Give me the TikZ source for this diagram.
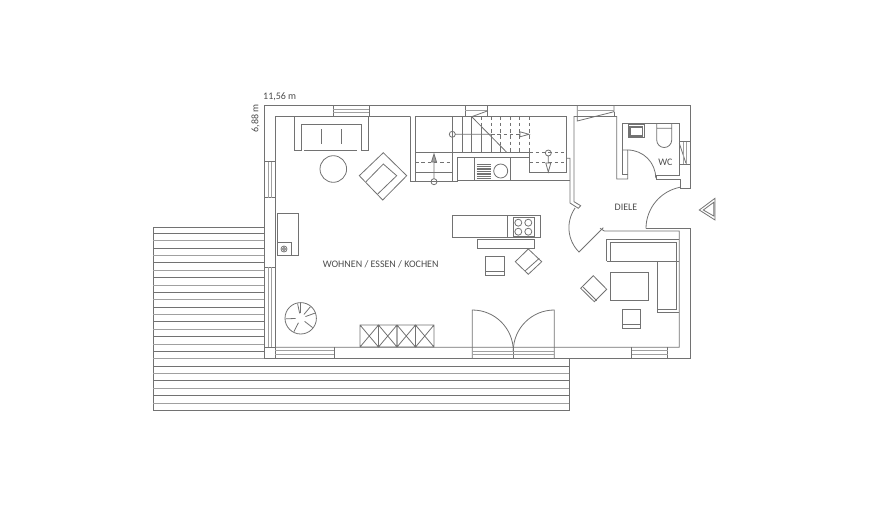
\documentclass[tikz,border=0pt]{standalone}
\usepackage{fontspec}
\usetikzlibrary{calc}
\setmainfont{Carlito}
\definecolor{planline}{HTML}{727272}
\definecolor{planlight}{HTML}{A0A0A0}
\tikzset{
plan/.style={draw=planline,line width=0.8pt},
pane/.style={draw=planlight,line width=0.8pt},
hidden/.style={plan,dash pattern=on 3.5pt off 2.8pt},
label/.style={text=black!70,font=\fontsize{10}{11}\selectfont,inner sep=0pt}}
\newcommand{\panes}[4]{% x1, x2, y1, y2
\draw[pane] (#1,#3) -- (#2,#3);
\draw[pane] (#1,#4) -- (#2,#4);}
\begin{document}
\begin{tikzpicture}[x=1pt,y=-1pt]
\useasboundingbox (0,0) rectangle (870,504);
% terrace
\draw[plan] (264,227.3) -- (153.3,227.3) -- (153.3,410.3) -- (569.3,410.3) -- (569.3,358.7);
\foreach \k in {0,2,...,16}
\draw[plan] (153.3,{233.3+7.375*\k}) -- (264,{233.3+7.375*\k});
\foreach \k in {1,3,...,15}
\draw[pane] (153.3,{233.3+7.375*\k}) -- (264,{233.3+7.375*\k});
\foreach \k in {17,19,21,23}
\draw[pane] (153.3,{233.3+7.375*\k}) -- (569.3,{233.3+7.375*\k});
\foreach \k in {18,20,22}
\draw[plan] (153.3,{233.3+7.375*\k}) -- (569.3,{233.3+7.375*\k});
% outer walls
\draw[plan] (690.7,188.3) -- (690.7,105) -- (264,105) -- (264,358.3) -- (690.7,358.3) -- (690.7,228.5) -- (646,228.5);
\draw[plan] (680,188.3) -- (690.7,188.3);
% inner walls
\draw[plan] (410.7,116.5) -- (275.5,116.5) -- (275.5,347.3) -- (679.3,347.3) -- (679.3,231) -- (604.3,231) -- (600,228.3);
\draw[plan] (264,347.3) -- (275.5,347.3);
\draw[plan] (410.7,116.5) -- (410.7,181.7) -- (415,181.7);
\draw[plan] (264,161.7) -- (275.5,161.7) (264,197.7) -- (275.5,197.7) (264,267.3) -- (275.5,267.3);
\draw[plan] (566.7,158.3) -- (570,158.3) -- (570,203) -- (578.3,208.3) -- (580.7,205.7) -- (574,201.7) -- (574,116.5) -- (616.7,116.5) -- (616.7,179) -- (627.7,179) -- (627.7,150) -- (622.7,150);
\draw[plan] (622.7,174.5) -- (627.7,174.5);
\draw[plan] (622.7,174.5) -- (622.7,123.3) -- (679.3,123.3) -- (679.3,175) -- (656,175) -- (656,179) -- (680,179) -- (680,188.3);
% windows
\draw[plan] (333,105) rectangle (369,116.5);
\panes{333}{369}{109}{112}
\draw[plan] (465.3,105) rectangle (487.3,116.5);
\draw[pane] (465.3,110) -- (487.3,110);
\draw[plan] (577.3,105) -- (577.3,121) -- (614,111.7) -- (614,105);
\draw[plan] (614,111.7) -- (614,116.5);
\draw[pane] (577.3,110) -- (614,110);
\draw[plan] (679.3,141.7) -- (690.7,141.7) (679.3,164.3) -- (690.7,164.3);
\draw[plan] (679.3,143.3) -- (686,163.3);
\draw[pane] (683.3,141.7) -- (683.3,164.3) (686.7,141.7) -- (686.7,164.3);
\draw[pane] (268.3,161.7) -- (268.3,197.7) (271.3,161.7) -- (271.3,197.7);
\draw[pane] (268.3,267.3) -- (268.3,347.3) (271.3,267.3) -- (271.3,347.3);
\draw[plan] (275,347.3) -- (275,358.3) (334.3,347.3) -- (334.3,358.3);
\panes{275}{334.3}{350.7}{354}
\draw[plan] (631.7,347.3) -- (631.7,358.3) (667.7,347.3) -- (667.7,358.3);
\panes{631.7}{667.7}{350.7}{354}
% doors
\draw[plan] (472.3,358.3) -- (472.3,310) arc[start angle=270,end angle=360,radius=41];
\draw[plan] (554.3,358.3) -- (554.3,310) arc[start angle=270,end angle=180,radius=41];
\draw[plan] (513.3,347.3) -- (513.3,358.3);
\panes{472.3}{554.3}{351}{354}
\draw[plan] (603.3,227.7) -- (579,252) arc[start angle=135,end angle=215,radius=34.4];
\draw[plan] (627.7,150) arc[start angle=270,end angle=360,radius=28] -- (656,175);
\draw[plan] (646,228.5) arc[start angle=180,end angle=259,radius=42];
% stairs
\draw[plan] (415,181.7) -- (415,116.5) -- (566.7,116.5) -- (566.7,172.3) -- (529.3,172.3) -- (529.3,152.3) -- (415,152.3);
\draw[plan] (415,172.3) -- (452.3,172.3) (415,181.7) -- (457.7,181.7) -- (457.7,157.7) -- (529.3,157.7);
\draw[hidden] (415,162.7) -- (452.3,162.7) (529.3,162.7) -- (566.7,162.7) (529.3,152.8) -- (566.7,152.8);
\draw[plan] (452.3,152.3) -- (452.3,181.7);
\foreach \x in {452.3,462,471.7}
\draw[plan] (\x,116.5) -- (\x,152.3);
\foreach \x/\y in {481.3/126.5,491/136.3,500.7/146.2}{
\draw[plan] (\x,\y) -- (\x,152.3);
\draw[hidden] (\x,116.5) -- (\x,\y);}
\foreach \x in {510,519.7,529.3}
\draw[hidden] (\x,116.5) -- (\x,152.3);
\draw[plan] (471.7,116.7) -- (506.7,152.3) (471.7,116.7) -- (487.3,111);
\draw[plan] (452.3,134.3) circle[radius=3] (455.3,134.3) -- (491,134.3);
\draw[hidden] (491,134.3) -- (520,134.3);
\draw[plan] (520,131.8) -- (529,134.3) -- (520,136.8) -- cycle;
\draw[plan] (434,181.7) circle[radius=3] (434,178.7) -- (434,162);
\draw[plan,fill=planlight] (431.5,162) -- (434,154) -- (436.5,162) -- cycle;
\draw[plan] (548.3,153) circle[radius=3] (548.3,156) -- (548.3,163);
\draw[plan] (545.8,163) -- (548.3,172) -- (550.8,163) -- cycle;
% kitchen
\draw[plan] (457.7,180.7) -- (570,180.7) (474,157.7) -- (474,180.7) (510,157.7) -- (510,180.7);
\draw[plan] (500.7,171) circle[radius=7];
\foreach \y in {164.5,166.2,...,178.5}
\draw[plan,line width=0.5pt] (476.7,\y) -- (491,\y);
\draw[plan] (452.3,215) rectangle (540.7,237.7) (507.3,215) -- (507.3,237.7);
\draw[plan] (513.3,217.7) rectangle (534,236.7);
\foreach \x in {518.3,528.3}
\foreach \y in {222.7,231.7}
\draw[plan] (\x,\y) circle[radius=3.5];
\draw[plan] (477.3,239) rectangle (534,248.3);
\draw[plan] (485.3,256) rectangle (504,275) (485.3,271) -- (504,271);
\draw[plan] (528.3,249) -- (541.7,261.7) -- (528.3,274.3) -- (515.3,261.7) -- cycle (525,271) -- (539.3,258.3);
% WC
\draw[plan] (628.3,124.3) rectangle (644.3,137.7);
\draw[plan,line width=1.2pt] (630,127) rectangle (642.7,136);
\draw[plan] (656.7,123.3) -- (656.7,140) arc[start angle=180,end angle=0,radius=7.5] -- (671.7,123.3) (656.7,128.3) -- (671.7,128.3);
% entrance mark
\draw[plan] (699.3,210) -- (715,198.3) -- (715,220) -- cycle (703.3,210) -- (713.7,202.3) -- (713.7,216) -- cycle;
% living room
\draw[plan] (294.3,116.5) -- (294.3,150) -- (301.7,150) -- (301.7,124.3) -- (361,124.3) -- (361,150) -- (368.7,150) -- (368.7,116.5);
\draw[plan] (304,150) -- (357.3,150) (321.3,129) -- (321.3,144) (341.3,129) -- (341.3,144);
\draw[plan] (333.3,169) circle[radius=13.3];
\draw[plan] (383.3,152.7) -- (406.7,175.7) -- (382.7,200) -- (359.3,175.7) -- cycle;
\draw[plan] (366,181.7) -- (383.3,164) -- (396.7,175.7) -- (377.7,194);
\draw[plan] (277.3,213.3) rectangle (298.3,255) (277.3,242.3) -- (291,242.3) -- (291,255);
\draw[plan] (284,249) circle[radius=3];
\draw[plan] (284,249) circle[radius=1.5];
\draw[plan] (300.7,318.3) circle[radius=15.7];
\foreach \a in {310,340,38,117,178,258,270}
\draw[plan] ($(300.7,318.3)+(\a:5)$) -- ($(300.7,318.3)+(\a:15)$);
\foreach \x in {360,378.5,397,415.5}
\draw[plan] (\x,325) rectangle ++(18.5,22) (\x,325) -- ++(18.5,22) (\x,347) -- ++(18.5,-22);
\draw[plan] (606.7,261) -- (606.7,239) -- (679.3,239) (610,261) -- (610,242.7) -- (676,242.7) -- (676,309) -- (657.7,309);
\draw[plan] (606.7,261) -- (679.3,261) (657.7,261) -- (657.7,312.7) -- (679.3,312.7);
\draw[plan] (610.7,272.7) rectangle (648,300.3);
\draw[plan] (622,309.3) rectangle (640.7,328) (622,324.3) -- (640.7,324.3);
\draw[plan] (593.3,275.7) -- (606.7,289.3) -- (594.3,301.7) -- (580.7,288.3) -- cycle (583.3,287.3) -- (596.7,300.7);
% texts
\node[label] (wohnen) at (380.7,264.3) {WOHNEN / ESSEN / KOCHEN};
\node[label] (diele) at (626,207) {DIELE};
\node[label] (wc) at (665.5,162.7) {WC};
\node[label,anchor=west] (breite) at (263,97) {11,56 m};
\node[label,rotate=90] (tiefe) at (255.5,118.5) {6,88 m};
\end{tikzpicture}
\end{document}
